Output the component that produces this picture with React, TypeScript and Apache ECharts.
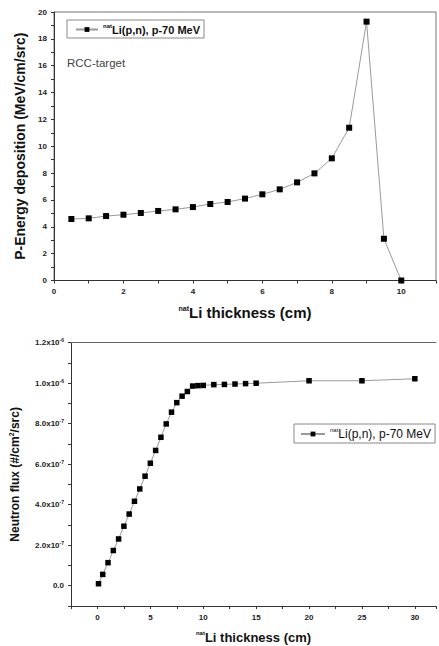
import React, { useEffect, useRef } from 'react';
import * as echarts from 'echarts';

// Top chart: proton energy deposition vs natLi thickness
const thicknessTop = [0.5, 1, 1.5, 2, 2.5, 3, 3.5, 4, 4.5, 5, 5.5, 6, 6.5, 7, 7.5, 8, 8.5, 9, 9.5, 10];
const energyDeposition = [4.58, 4.63, 4.8, 4.9, 5.03, 5.18, 5.3, 5.47, 5.7, 5.85, 6.1, 6.42, 6.79, 7.31, 7.98, 9.1, 11.38, 19.28, 3.11, 0];

// Bottom chart: neutron flux vs natLi thickness
const thicknessBottom = [0.1, 0.5, 1, 1.5, 2, 2.5, 3, 3.5, 4, 4.5, 5, 5.5, 6, 6.5, 7, 7.5, 8, 8.5, 9, 9.5, 10, 11, 12, 13, 14, 15, 20, 25, 30];
const neutronFlux = [
  1.0e-8, 5.6e-8, 1.14e-7, 1.74e-7, 2.31e-7, 2.94e-7, 3.54e-7, 4.17e-7, 4.78e-7,
  5.41e-7, 6.05e-7, 6.68e-7, 7.33e-7, 7.99e-7, 8.57e-7, 9.04e-7, 9.36e-7, 9.59e-7, 9.86e-7, 9.88e-7, 9.89e-7,
  9.93e-7, 9.94e-7, 9.96e-7, 9.98e-7, 1.0e-6, 1.012e-6, 1.012e-6, 1.022e-6,
];

const legendLabel = '{sup|nat}Li(p,n), p-70 MeV';
const topYTitle = 'P-Energy deposition (MeV/cm/src)';
const topXTitle = '{sup|nat}Li thickness (cm)';
const bottomYTitle = 'Neutron flux (#/cm{sup|2}/src)';
const bottomXTitle = '{sup|nat}Li thickness (cm)';
const annotation = 'RCC-target';

const FONT = '"Liberation Sans", Arial, sans-serif';

export default function App() {
  const ref = useRef<HTMLDivElement>(null);
  useEffect(() => {
    if (!ref.current) return;
    const chart = echarts.init(ref.current, null, { renderer: 'svg' });
    const tickLabel = { fontFamily: FONT, fontSize: 8, fontWeight: 'bold', color: '#222' };
    const axisLine = { show: true, onZero: false, lineStyle: { color: '#333', width: 1 } };
    const axisTick = { show: true, inside: false, length: 3, lineStyle: { color: '#333' } };
    const option: any = {
      animation: false,
      backgroundColor: '#fff',
      textStyle: { fontFamily: FONT },
      grid: [
        { left: 54, top: 12, width: 383, height: 268.5, show: true, borderColor: '#777', borderWidth: 1, containLabel: false },
        { left: 70, top: 342.7, width: 369, height: 263.3, show: false, containLabel: false },
      ],
      xAxis: [
        {
          gridIndex: 0, type: 'value', min: 0, max: 11, interval: 1,
          axisLine, axisTick, splitLine: { show: false },
          axisLabel: { ...tickLabel, margin: 7, formatter: (v: number) => (v % 2 === 0 && v <= 10 ? String(v) : '') },
          name: topXTitle, nameLocation: 'middle', nameGap: 24,
          nameTextStyle: {
            fontFamily: FONT, fontSize: 15, fontWeight: 'bold', color: '#111',
            rich: { sup: { fontFamily: FONT, fontSize: 7, fontWeight: 'bold', color: '#111', padding: [0, 0, 9, 0] } },
          },
        },
        {
          gridIndex: 1, type: 'value', min: -2.5, max: 32, interval: 2.5,
          axisLine, axisTick, splitLine: { show: false },
          axisLabel: { ...tickLabel, margin: 7, formatter: (v: number) => (Math.abs(v % 5) < 1e-9 && v >= 0 ? String(v) : '') },
          name: bottomXTitle, nameLocation: 'middle', nameGap: 24,
          nameTextStyle: {
            fontFamily: FONT, fontSize: 13, fontWeight: 'bold', color: '#111',
            rich: { sup: { fontFamily: FONT, fontSize: 6, fontWeight: 'bold', color: '#111', padding: [0, 0, 8, 0] } },
          },
        },
        {
          gridIndex: 1, type: 'value', min: -2.5, max: 32, position: 'top',
          axisLine: { show: true, onZero: false, lineStyle: { color: '#666', width: 1 } },
          axisTick: { show: false }, axisLabel: { show: false }, splitLine: { show: false },
        },
      ],
      yAxis: [
        {
          gridIndex: 0, type: 'value', min: 0, max: 20, interval: 1,
          axisLine, axisTick, splitLine: { show: false },
          axisLabel: { ...tickLabel, margin: 7, formatter: (v: number) => (v % 2 === 0 ? String(v) : '') },
          name: topYTitle, nameLocation: 'middle', nameGap: 20,
          nameTextStyle: { fontFamily: FONT, fontSize: 14, fontWeight: 'bold', color: '#111' },
        },
        {
          gridIndex: 1, type: 'value', min: -1e-7, max: 1.2e-6, interval: 1e-7,
          axisLine, axisTick, splitLine: { show: false },
          axisLabel: {
            ...tickLabel, margin: 7,
            formatter: (v: number) => {
              const n = Math.round(v * 1e7);
              if (n % 2 !== 0 || n < 0) return '';
              if (n === 0) return '0.0';
              if (n >= 10) return `${(n / 10).toFixed(1)}x10{sup|-6}`;
              return `${n.toFixed(1)}x10{sup|-7}`;
            },
            rich: { sup: { fontFamily: FONT, fontSize: 5, fontWeight: 'bold', color: '#222', padding: [0, 0, 5, 0] } },
          },
          name: bottomYTitle, nameLocation: 'middle', nameGap: 50,
          nameTextStyle: {
            fontFamily: FONT, fontSize: 12, fontWeight: 'bold', color: '#111',
            rich: { sup: { fontFamily: FONT, fontSize: 7, fontWeight: 'bold', color: '#111', padding: [0, 0, 6, 0] } },
          },
        },
      ],
      legend: [
        {
          data: ['Energy deposition'], left: 67, top: 20, orient: 'horizontal',
          borderColor: '#888', borderWidth: 1, padding: [3, 4, 3, 8], itemWidth: 22, itemHeight: 6, itemGap: 0,
          formatter: () => legendLabel,
          textStyle: {
            fontFamily: FONT, fontSize: 11, fontWeight: 'bold', color: '#111',
            rich: { sup: { fontFamily: FONT, fontSize: 6, fontWeight: 'bold', color: '#111', padding: [0, 0, 7, 0] } },
          },
        },
        {
          data: ['Neutron flux'], left: 294, top: 424, orient: 'horizontal',
          borderColor: '#888', borderWidth: 1, padding: [3, 4, 3, 6], itemWidth: 24, itemHeight: 6, itemGap: 0,
          formatter: () => legendLabel,
          textStyle: {
            fontFamily: FONT, fontSize: 12, color: '#111',
            rich: { sup: { fontFamily: FONT, fontSize: 6, color: '#111', padding: [0, 0, 8, 0] } },
          },
        },
      ],
      graphic: [
        { type: 'text', left: 67, top: 57, style: { text: annotation, fontFamily: FONT, fontSize: 11.5, fill: '#444' } },
      ],
      series: [
        {
          name: 'Energy deposition', type: 'line', xAxisIndex: 0, yAxisIndex: 0,
          data: thicknessTop.map((x, i) => [x, energyDeposition[i]]),
          symbol: 'rect', symbolSize: 6, showSymbol: true,
          lineStyle: { color: '#9a9a9a', width: 1 },
          itemStyle: { color: '#000' },
        },
        {
          name: 'Neutron flux', type: 'line', xAxisIndex: 1, yAxisIndex: 1,
          data: thicknessBottom.map((x, i) => [x, neutronFlux[i]]),
          symbol: 'rect', symbolSize: 5.5, showSymbol: true,
          lineStyle: { color: '#9a9a9a', width: 1 },
          itemStyle: { color: '#000' },
        },
      ],
    };
    chart.setOption(option);
    return () => chart.dispose();
  }, []);
  return <div ref={ref} style={{ position: 'fixed', left: 0, top: 0, width: 439, height: 646, background: '#fff' }} />;
}
